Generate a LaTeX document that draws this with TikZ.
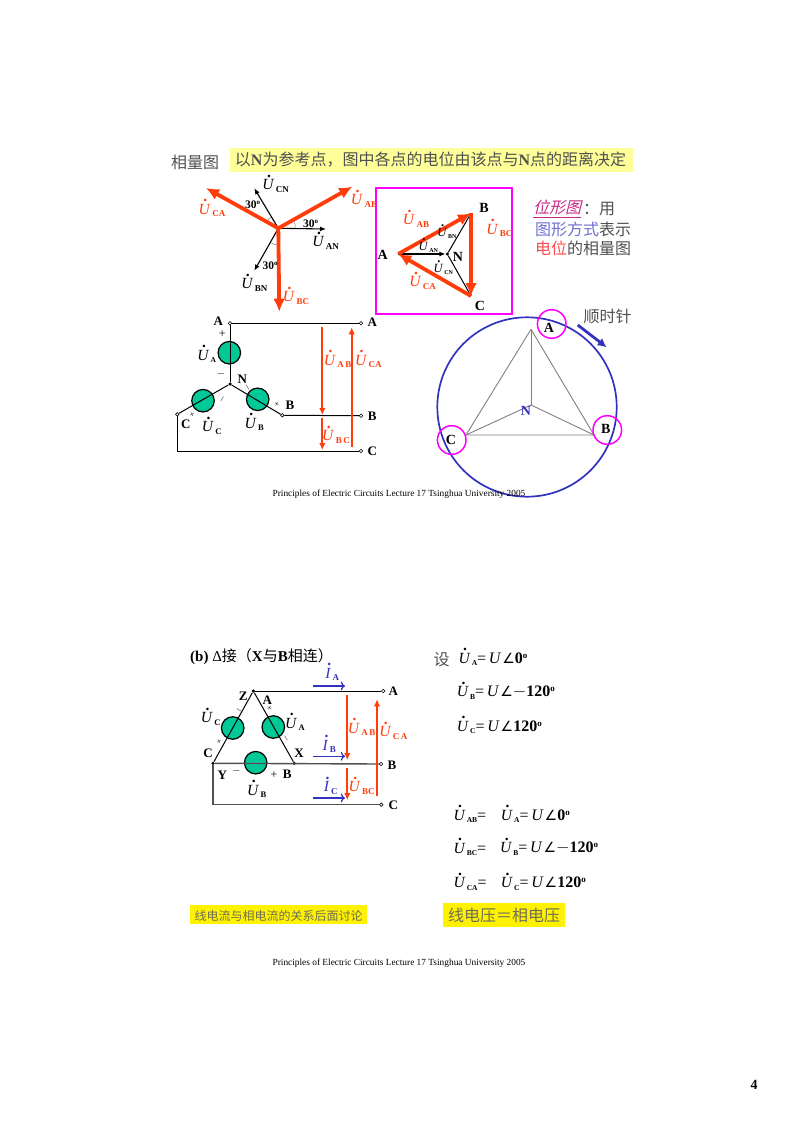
\documentclass[tikz,border=0pt]{standalone}
\usepackage{amsmath}
\usepackage{fontspec}
\setmainfont{Liberation Serif}
\newfontfamily\cjk{Noto Sans CJK SC}
\newfontfamily\cjkit[FakeSlant=0.25]{Noto Sans CJK SC}
\newfontfamily\symf{DejaVu Sans}
\usetikzlibrary{arrows,arrows.meta}
\definecolor{src_green}{RGB}{0, 200, 150}
\definecolor{ph_red}{RGB}{255, 60, 10}
\definecolor{ph_blue}{RGB}{50, 50, 190}
\definecolor{pale_yellow}{RGB}{255, 255, 153}
\definecolor{mag}{RGB}{255, 0, 255}
\definecolor{soft}{RGB}{80, 80, 80}
\definecolor{olive}{RGB}{110, 110, 90}
\newcommand{\fsz}[1]{\fontsize{#1}{#1}\selectfont}
\newcommand{\dotted}[2]{\makebox[0pt][l]{\hspace{#2}\smash{\raisebox{0.8em}{\textbf{.}}}}\textit{#1}}
\newcommand{\Uph}[2][9]{{\fsz{15.5}\dotted{U}{0.3em}}\smash{\raisebox{-2.5pt}{\fsz{#1}\textbf{\,#2}}}}
\newcommand{\Usm}[1]{{\fsz{12.5}\dotted{U}{0.3em}}\smash{\raisebox{-2pt}{\fsz{6}\textbf{\,#1}}}}
\newcommand{\Iph}[1]{{\fsz{15.5}\dotted{I}{0.12em}}\smash{\raisebox{-2.5pt}{\fsz{9}\textbf{\,#1}}}}
\newcommand{\Uang}{\,\textit{U}\hspace{1pt}{\symf\fsz{14}∠}}
\newcommand{\Deg}[1]{{\fsz{16}\textbf{#1}}\raisebox{5pt}{\fsz{9}\textbf{o}}}
\tikzstyle{none}=[inner sep=0pt,minimum size=0pt]
\tikzstyle{src}=[circle,fill=src_green,draw=black,line width=1.2pt,inner sep=0pt,minimum size=22.5pt]
\tikzstyle{term}=[circle,fill=white,draw=black,line width=0.6pt,inner sep=0pt,minimum size=3.5pt]
\tikzstyle{jn}=[circle,fill=black,inner sep=0pt,minimum size=3.5pt]
\tikzstyle{lbl}=[inner sep=0pt,font=\fsz{13}\bfseries]
\tikzstyle{pol}=[inner sep=0pt,font=\fsz{9}]
\tikzstyle{phb}=[inner sep=0pt,text=black]
\tikzstyle{phr}=[inner sep=0pt,text=ph_red]
\tikzstyle{phi}=[inner sep=0pt,text=ph_blue]
\tikzstyle{cn}=[inner sep=0pt,font=\fsz{16}\cjk,text=soft]
\tikzstyle{eqn}=[inner sep=0pt,anchor=west,font=\fsz{16}]
\tikzstyle{foot}=[inner sep=0pt,font=\fsz{9.35}]
\tikzstyle{wire}=[black,line width=1pt]
\tikzstyle{gwire}=[soft,line width=1.4pt]
\tikzstyle{fatred}=[ph_red,line width=3.8pt,-{Latex[length=13pt,width=12pt]}]
\tikzstyle{redarr}=[ph_red,line width=2pt,-{Latex[length=7pt,width=6.5pt]}]
\tikzstyle{blackarr}=[black,line width=1.1pt,-{Latex[length=6pt,width=5pt]}]
\tikzstyle{bluearr}=[ph_blue,line width=1.2pt,->]
\tikzstyle{hair}=[gray,line width=0.5pt]
\tikzstyle{tri}=[gray,line width=0.9pt]
\begin{document}
\begin{tikzpicture}[x=1pt,y=-1pt]
            \useasboundingbox (0, 0) rectangle (794, 1123);
            \fill [pale_yellow] (230, 148.3) rectangle (632.7, 171.7);
            \node [style=cn] (title) at (195, 162) {相量图};
            \node [style=cn] (head) at (430.5, 160) {以\textbf{\rmfamily N}为参考点，图中各点的电位由该点与\textbf{\rmfamily N}点的距离决定};
            \node [style=none] (o) at (278.3, 228.3) {};
            \node [style=none] (ca) at (206, 188) {};
            \node [style=none] (ab) at (352.3, 186.7) {};
            \node [style=none] (bc) at (279.3, 311.7) {};
            \node [style=none] (cn) at (254.3, 188.3) {};
            \node [style=none] (an) at (326, 229) {};
            \node [style=none] (bn) at (254.3, 270.7) {};
            \node [style=none] (a1) at (271.6, 217) {};
            \node [style=none] (a2) at (267, 222) {};
            \node [style=none] (a3) at (293, 220) {};
            \node [style=none] (a4) at (295, 228.3) {};
            \node [style=none] (a5) at (270, 242.3) {};
            \node [style=none] (a6) at (278.3, 244.3) {};
            \draw [style=hair, bend right=25] (a1.center) to (a2.center);
            \draw [style=hair, bend left=25] (a3.center) to (a4.center);
            \draw [style=hair, bend right=25] (a5.center) to (a6.center);
            \draw [style=blackarr] (o.center) to (cn.center);
            \draw [style=blackarr] (o.center) to (an.center);
            \draw [style=blackarr] (o.center) to (bn.center);
            \draw [style=fatred] (o.center) to (ca.center);
            \draw [style=fatred] (o.center) to (ab.center);
            \draw [style=fatred] (o.center) to (bc.center);
            \node [style=phb] (lcn) at (275.7, 185) {\Uph{CN}};
            \node [style=phb] (lan) at (325.7, 241.7) {\Uph{AN}};
            \node [style=phb] (lbn) at (254.3, 284) {\Uph{BN}};
            \node [style=phr] (lca) at (212, 209.3) {\Uph{CA}};
            \node [style=phr] (lab) at (364, 200) {\Uph{AB}};
            \node [style=phr] (lbc) at (296, 296.7) {\Uph{BC}};
            \node [style=lbl] (d1) at (252.7, 204.3) {\fsz{11.5}30\raisebox{4pt}{\fsz{7}o}};
            \node [style=lbl] (d2) at (310.7, 223.3) {\fsz{11.5}30\raisebox{4pt}{\fsz{7}o}};
            \node [style=lbl] (d3) at (270, 265.7) {\fsz{11.5}30\raisebox{4pt}{\fsz{7}o}};
            \draw [mag, line width=1.7pt] (375.7, 188.3) rectangle (512, 314);
            \node [style=none] (pA) at (398.3, 254) {};
            \node [style=none] (pB) at (471, 213.3) {};
            \node [style=none] (pC) at (471, 296) {};
            \node [style=jn] (pN) at (447.3, 254) {};
            \draw [style=blackarr] (pA.center) to (pN);
            \draw [style=wire] (pN) to (pB.center);
            \draw [style=wire] (pN) to (pC.center);
            \draw [style=fatred] (pA.center) to (pB.center);
            \draw [style=fatred] (pB.center) to (pC.center);
            \draw [style=fatred] (pC.center) to (pA.center);
            \node [style=lbl] (tA) at (382.7, 255) {\fsz{14}A};
            \node [style=lbl] (tB) at (484, 208.3) {\fsz{14}B};
            \node [style=lbl] (tC) at (480, 306) {\fsz{14}C};
            \node [style=lbl] (tN) at (458, 257.3) {\fsz{14}N};
            \node [style=phr] (tab) at (416, 220) {\Uph{AB}};
            \node [style=phr] (tbc) at (499.3, 229.3) {\Uph{BC}};
            \node [style=phr] (tca) at (422.7, 281.7) {\Uph{CA}};
            \node [style=phb] (tbn) at (447, 232.7) {\Usm{BN}};
            \node [style=phb] (tan) at (428.3, 246) {\Usm{AN}};
            \node [style=phb] (tcn) at (443.3, 268.3) {\Usm{CN}};
            \node [style=cn, anchor=west, text=magenta!80!black] (w1) at (533, 209) {\underline{\cjkit 位形图}};
            \node [style=cn, anchor=west] (w2) at (583, 209) {：用};
            \node [style=cn, anchor=west] (w3) at (535, 229) {\textcolor{ph_blue!70}{图形方式}表示};
            \node [style=cn, anchor=west] (w4) at (535, 248.5) {\textcolor{red!70}{电位}的相量图};
            \node [style=src] (sA) at (229.3, 352.7) {};
            \node [style=src] (sC) at (203, 400.7) {};
            \node [style=src] (sB) at (257.7, 399.3) {};
            \node [style=jn] (yN) at (230, 384) {};
            \node [style=term] (yA) at (230, 323.3) {};
            \node [style=term] (yB) at (282.3, 415.3) {};
            \node [style=term] (yC) at (177.3, 414.3) {};
            \node [style=term] (rA) at (361, 323.3) {};
            \node [style=term] (rB) at (361, 415.7) {};
            \node [style=term] (rC) at (361, 451) {};
            \node [style=none] (yK) at (177.3, 451) {};
            \draw [style=wire] (yA) to (yN);
            \draw [style=wire] (yN) to (yB);
            \draw [style=wire] (yN) to (yC);
            \draw [style=wire] (yA) to (rA);
            \draw [style=wire] (yB) to (rB);
            \draw [style=wire] (yC) to (yK.center) to (rC);
            \node [style=none] (uab1) at (322.3, 326.7) {};
            \node [style=none] (uab2) at (322.3, 415) {};
            \node [style=none] (ubc1) at (322.3, 417.7) {};
            \node [style=none] (ubc2) at (322.3, 450) {};
            \node [style=none] (uca1) at (351.7, 447.3) {};
            \node [style=none] (uca2) at (351.7, 327.3) {};
            \draw [style=redarr] (uab1.center) to (uab2.center);
            \draw [style=redarr] (ubc1.center) to (ubc2.center);
            \draw [style=redarr] (uca1.center) to (uca2.center);
            \node [style=lbl] (yla) at (218.3, 321.7) {A};
            \node [style=lbl] (rla) at (372.3, 322.7) {A};
            \node [style=lbl] (ylb) at (290, 405.7) {B};
            \node [style=lbl] (rlb) at (372.3, 416.7) {B};
            \node [style=lbl] (ylc) at (185.7, 424.7) {C};
            \node [style=lbl] (rlc) at (372.3, 451) {C};
            \node [style=lbl] (yln) at (242.3, 379.3) {N};
            \node [style=pol] (m1) at (222.3, 334) {\fsz{12}+};
            \node [style=pol] (m2) at (221, 373.3) {\fsz{11}$-$};
            \node [style=pol, rotate=60] (m3) at (222.3, 399.3) {$-$};
            \node [style=pol, rotate=-60] (m4) at (247.7, 387.3) {$-$};
            \node [style=pol, rotate=30] (m5) at (192.3, 415) {+};
            \node [style=pol, rotate=-30] (m6) at (276.7, 405) {+};
            \node [style=phb] (ula) at (206.7, 355) {\Uph[7.5]{A}};
            \node [style=phb] (ulc) at (211.7, 426.7) {\Uph[8.5]{C}};
            \node [style=phb] (ulb) at (254.3, 423.3) {\Uph[8.5]{B}};
            \node [style=phr] (ulab) at (337.7, 360) {\Uph{A\,B}};
            \node [style=phr] (ulca) at (368.3, 360) {\Uph{CA}};
            \node [style=phr] (ulbc) at (336, 435.7) {\Uph{B\,C}};
            \node [style=none] (cc) at (527, 407) {};
            \draw [ph_blue, line width=1.7pt] (cc) circle (89.7);
            \node [style=none] (cA) at (531, 329.3) {};
            \node [style=none] (cB) at (594, 435) {};
            \node [style=none] (cC) at (466, 435) {};
            \node [style=none] (cN) at (531, 405) {};
            \draw [style=tri] (cA.center) to (cB.center) to (cC.center) to (cA.center);
            \draw [style=tri] (cN.center) to (cA.center);
            \draw [style=tri] (cN.center) to (cB.center);
            \draw [style=tri] (cN.center) to (cC.center);
            \draw [mag, line width=1.5pt] (551.7, 324) circle (14.3);
            \draw [mag, line width=1.5pt] (607.3, 430) circle (14.3);
            \draw [mag, line width=1.5pt] (451.7, 440) circle (14.3);
            \node [style=lbl] (clA) at (549, 328) {\fsz{14}A};
            \node [style=lbl] (clB) at (605.7, 429.3) {\fsz{14}B};
            \node [style=lbl] (clC) at (451, 440) {\fsz{14}C};
            \node [style=lbl, text=ph_blue] (clN) at (526, 411) {\fsz{14}N};
            \node [style=cn] (cw) at (607.7, 316.7) {顺时针};
            \node [style=none] (cw1) at (577.7, 325) {};
            \node [style=none] (cw2) at (606.7, 347.3) {};
            \draw [ph_blue, line width=2.8pt, -{Latex[length=9pt,width=9pt]}] (cw1.center) to (cw2.center);
            \node [style=foot] (f1) at (399, 494.5) {Principles of Electric Circuits Lecture 17 Tsinghua University 2005};
            \node [style=lbl, anchor=west] (sub) at (190, 656.7) {\fsz{15}(b) \textmd{Δ}\mdseries\cjk 接（\textbf{\rmfamily X}与\textbf{\rmfamily B}相连）};
            \node [style=src] (dA) at (273.3, 727) {};
            \node [style=src] (dC) at (232.7, 728) {};
            \node [style=src] (dB) at (255.7, 762.7) {};
            \node [style=jn] (dZ) at (253.3, 691) {};
            \node [style=jn] (dY) at (213, 763.3) {};
            \node [style=jn] (dX) at (294.3, 763.3) {};
            \node [style=term] (qA) at (383.3, 691) {};
            \node [style=term] (qB) at (381, 764) {};
            \node [style=term] (qC) at (381.3, 804.7) {};
            \node [style=none] (dK) at (213, 804.7) {};
            \draw [style=wire] (dZ) to (dX);
            \draw [style=wire] (dZ) to (dY);
            \draw [style=wire] (dZ) to (qA);
            \draw [style=gwire] (dY) to (qB);
            \draw [style=gwire] (dY) to (dK.center) to (qC);
            \node [style=none] (ia1) at (313.3, 686) {};
            \node [style=none] (ia2) at (345, 686) {};
            \node [style=none] (ib1) at (312.7, 756.3) {};
            \node [style=none] (ib2) at (345, 756.3) {};
            \node [style=none] (ic1) at (312.7, 798) {};
            \node [style=none] (ic2) at (345, 798) {};
            \draw [style=bluearr] (ia1.center) to (ia2.center);
            \draw [style=bluearr] (ib1.center) to (ib2.center);
            \draw [style=bluearr] (ic1.center) to (ic2.center);
            \node [style=none] (vab1) at (347.3, 695) {};
            \node [style=none] (vab2) at (347.3, 760) {};
            \node [style=none] (vbc1) at (347.3, 768.3) {};
            \node [style=none] (vbc2) at (347.3, 800) {};
            \node [style=none] (vca1) at (377, 796) {};
            \node [style=none] (vca2) at (377, 699.3) {};
            \draw [style=redarr] (vab1.center) to (vab2.center);
            \draw [style=redarr] (vbc1.center) to (vbc2.center);
            \draw [style=redarr] (vca1.center) to (vca2.center);
            \node [style=lbl] (lz) at (243.3, 696) {Z};
            \node [style=lbl] (lA2) at (267.3, 700) {A};
            \node [style=lbl] (lC2) at (208, 753.7) {C};
            \node [style=lbl] (lX) at (299, 753.7) {X};
            \node [style=lbl] (lY) at (222.3, 775) {Y};
            \node [style=lbl] (lB2) at (287.3, 774) {B};
            \node [style=lbl] (qlA) at (393.3, 691) {A};
            \node [style=lbl] (qlB) at (392, 765.7) {B};
            \node [style=lbl] (qlC) at (393.3, 805) {C};
            \node [style=pol] (n1) at (236.3, 770.7) {\fsz{11}$-$};
            \node [style=pol] (n2) at (274, 775) {\fsz{12}+};
            \node [style=pol, rotate=-30] (n3) at (239, 710) {$-$};
            \node [style=pol, rotate=30] (n4) at (219.3, 742.3) {+};
            \node [style=pol, rotate=-30] (n5) at (269.3, 709) {+};
            \node [style=pol, rotate=-60] (n6) at (286, 738.3) {$-$};
            \node [style=phb] (dlc) at (210.7, 717.7) {\Uph[8.5]{C}};
            \node [style=phb] (dla) at (295, 723.3) {\Uph[8.5]{A}};
            \node [style=phb] (dlb) at (256.7, 790) {\Uph[8.5]{B}};
            \node [style=phi] (ila) at (332.3, 673.3) {\Iph{A}};
            \node [style=phi] (ilb) at (329.3, 745) {\Iph{B}};
            \node [style=phi] (ilc) at (330.7, 786.7) {\Iph{C}};
            \node [style=phr] (vlab) at (361.7, 728.3) {\Uph{A\,B}};
            \node [style=phr] (vlca) at (393.3, 731.7) {\Uph{C\,A}};
            \node [style=phr] (vlbc) at (361.7, 786.7) {\Uph{BC}};
            \node [style=cn] (she) at (441.7, 659.3) {设};
            \node [style=eqn] (e1) at (458.3, 658) {\Uph[7.5]{A}=\Uang\Deg{0}};
            \node [style=eqn] (e2) at (456.7, 692) {\Uph[7.5]{B}=\Uang$-$\Deg{120}};
            \node [style=eqn] (e3) at (456.7, 726) {\Uph[7.5]{C}=\Uang\Deg{120}};
            \node [style=eqn] (e4) at (453.3, 815) {\Uph[7.5]{AB}=};
            \node [style=eqn] (e5) at (500.7, 815) {\Uph[7.5]{A}=\Uang\Deg{0}};
            \node [style=eqn] (e6) at (453.3, 848.3) {\Uph[7.5]{BC}=};
            \node [style=eqn] (e7) at (500, 848.3) {\Uph[7.5]{B}=\Uang$-$\Deg{120}};
            \node [style=eqn] (e8) at (453.3, 882.7) {\Uph[7.5]{CA}=};
            \node [style=eqn] (e9) at (500.7, 882.7) {\Uph[7.5]{C}=\Uang\Deg{120}};
            \fill [yellow] (190, 905) rectangle (367.3, 924.3);
            \fill [yellow] (443.3, 902.7) rectangle (565, 926.7);
            \node [style=cn, text=olive, font=\fsz{12}\cjk] (nt1) at (278.7, 916) {线电流与相电流的关系后面讨论};
            \node [style=cn, text=olive] (nt2) at (504, 915) {线电压＝相电压};
            \node [style=foot] (f2) at (399, 963.5) {Principles of Electric Circuits Lecture 17 Tsinghua University 2005};
            \node [style=lbl] (pg) at (754, 1085) {\fsz{14}4};
    \end{tikzpicture}
\end{document}
